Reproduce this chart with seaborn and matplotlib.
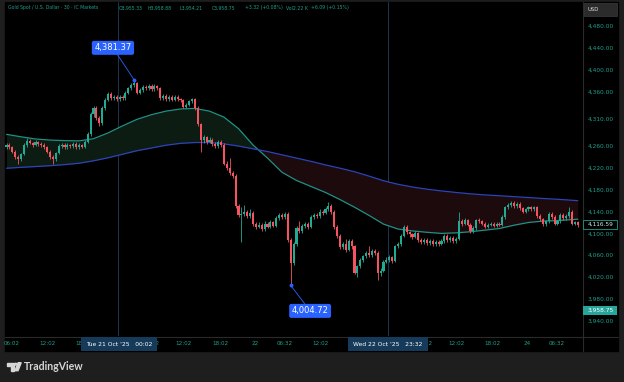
import matplotlib
matplotlib.use("Agg")
import matplotlib.pyplot as plt
import numpy as np
import pandas as pd
import seaborn as sns
from matplotlib.lines import Line2D
from matplotlib.patches import Circle, Polygon, Rectangle
from matplotlib.transforms import blended_transform_factory

# 30 min candles
opens = [
    4258, 4262, 4258, 4250, 4240, 4236, 4245, 4262, 4270, 4266,
    4262, 4268, 4264, 4262, 4258, 4250, 4240, 4236, 4248, 4260,
    4262, 4258, 4262, 4260, 4264, 4258, 4262, 4259, 4268, 4282,
    4318, 4330, 4312, 4302, 4330, 4345, 4356, 4348, 4350, 4346,
    4350, 4348, 4358, 4366, 4372, 4376, 4358, 4362, 4368, 4366,
    4370, 4364, 4370, 4366, 4348, 4352, 4346, 4350, 4345, 4350,
    4346, 4344, 4332, 4336, 4342, 4346, 4330, 4300, 4272, 4276,
    4268, 4272, 4264, 4260, 4268, 4262, 4228, 4220, 4210, 4206,
    4150, 4134, 4136, 4140, 4132, 4138, 4118, 4112, 4116, 4108,
    4118, 4112, 4120, 4114, 4128, 4134, 4130, 4136, 4088, 4045,
    4080, 4110, 4104, 4114, 4118, 4112, 4130, 4134, 4132, 4140,
    4138, 4144, 4150, 4140, 4112, 4095, 4075, 4080, 4070, 4086,
    4076, 4028, 4040, 4052, 4058, 4064, 4060, 4068, 4064, 4028,
    4032, 4048, 4052, 4056, 4050, 4076, 4080, 4096, 4112, 4102,
    4098, 4094, 4100, 4088, 4084, 4088, 4082, 4086, 4080, 4084,
    4081, 4086, 4096, 4088, 4092, 4086, 4090, 4122, 4118, 4124,
    4116, 4104, 4110, 4124, 4122, 4118, 4112, 4116, 4118, 4114,
    4118, 4116, 4130, 4148, 4152, 4156, 4150, 4154, 4146, 4140,
    4144, 4148, 4144, 4148, 4132, 4126, 4117, 4122, 4136, 4130,
    4118, 4122, 4134, 4128, 4132, 4140, 4118, 4120,
]
closes = [
    4262, 4258, 4250, 4240, 4236, 4245, 4262, 4270, 4266, 4262,
    4268, 4264, 4262, 4258, 4250, 4240, 4236, 4248, 4260, 4262,
    4258, 4262, 4260, 4264, 4258, 4262, 4259, 4268, 4282, 4318,
    4330, 4312, 4302, 4330, 4345, 4356, 4348, 4350, 4346, 4350,
    4348, 4358, 4366, 4372, 4376, 4358, 4362, 4368, 4366, 4370,
    4364, 4370, 4366, 4348, 4352, 4346, 4350, 4345, 4350, 4346,
    4344, 4332, 4336, 4342, 4346, 4330, 4300, 4272, 4276, 4268,
    4272, 4264, 4260, 4268, 4262, 4228, 4220, 4210, 4206, 4150,
    4134, 4136, 4140, 4132, 4138, 4118, 4112, 4116, 4108, 4118,
    4112, 4120, 4114, 4128, 4134, 4130, 4136, 4088, 4045, 4080,
    4110, 4104, 4114, 4118, 4112, 4130, 4134, 4132, 4140, 4138,
    4144, 4150, 4140, 4112, 4095, 4075, 4080, 4070, 4086, 4076,
    4028, 4040, 4052, 4058, 4064, 4060, 4068, 4064, 4028, 4032,
    4048, 4052, 4056, 4050, 4076, 4080, 4096, 4112, 4102, 4098,
    4094, 4100, 4088, 4084, 4088, 4082, 4086, 4080, 4084, 4081,
    4086, 4096, 4088, 4092, 4086, 4090, 4122, 4118, 4124, 4116,
    4104, 4110, 4124, 4122, 4118, 4112, 4116, 4118, 4114, 4118,
    4116, 4130, 4148, 4152, 4156, 4150, 4154, 4146, 4140, 4144,
    4148, 4144, 4148, 4132, 4126, 4117, 4122, 4136, 4130, 4118,
    4122, 4134, 4128, 4132, 4140, 4118, 4120, 4115,
]
highs = [
    4266, 4265, 4261, 4253, 4243, 4248, 4265, 4274, 4273, 4268,
    4271, 4270, 4267, 4265, 4260, 4253, 4244, 4250, 4263, 4266,
    4265, 4265, 4264, 4267, 4267, 4265, 4264, 4271, 4286, 4322,
    4334, 4333, 4316, 4333, 4349, 4360, 4359, 4354, 4353, 4354,
    4354, 4361, 4369, 4375, 4381.37, 4378, 4366, 4372, 4371, 4374,
    4373, 4373, 4372, 4368, 4355, 4355, 4353, 4353, 4353, 4353,
    4349, 4347, 4339, 4345, 4348, 4348, 4333, 4303, 4280, 4279,
    4276, 4275, 4267, 4271, 4271, 4265, 4232, 4238, 4214, 4209,
    4154, 4148, 4152, 4143, 4145, 4141, 4121, 4120, 4119, 4122,
    4121, 4124, 4123, 4131, 4138, 4137, 4140, 4139, 4091, 4084,
    4113, 4122, 4117, 4121, 4121, 4133, 4138, 4137, 4144, 4142,
    4148, 4158, 4153, 4143, 4115, 4098, 4084, 4090, 4090, 4090,
    4079, 4043, 4055, 4061, 4067, 4076, 4072, 4071, 4067, 4036,
    4051, 4056, 4060, 4059, 4079, 4084, 4099, 4116, 4115, 4105,
    4101, 4104, 4103, 4091, 4092, 4091, 4089, 4089, 4087, 4087,
    4089, 4099, 4099, 4095, 4095, 4093, 4140, 4126, 4128, 4127,
    4119, 4113, 4127, 4128, 4125, 4121, 4119, 4121, 4121, 4121,
    4121, 4133, 4151, 4156, 4159, 4159, 4157, 4157, 4149, 4147,
    4151, 4151, 4151, 4151, 4135, 4129, 4125, 4139, 4139, 4133,
    4125, 4137, 4137, 4135, 4149, 4143, 4123, 4123,
]
lows = [
    4255, 4255, 4247, 4237, 4228, 4233, 4243, 4259, 4263, 4259,
    4260, 4261, 4259, 4255, 4247, 4237, 4228, 4233, 4246, 4257,
    4255, 4254, 4257, 4256, 4255, 4255, 4256, 4256, 4265, 4279,
    4314, 4308, 4296, 4299, 4327, 4342, 4345, 4344, 4342, 4343,
    4344, 4345, 4355, 4363, 4369, 4355, 4355, 4359, 4362, 4363,
    4361, 4361, 4363, 4344, 4345, 4343, 4343, 4342, 4342, 4343,
    4341, 4329, 4329, 4333, 4339, 4327, 4296, 4250, 4266, 4264,
    4265, 4261, 4256, 4257, 4259, 4225, 4216, 4207, 4202, 4146,
    4130, 4085, 4132, 4128, 4129, 4114, 4108, 4109, 4104, 4105,
    4109, 4109, 4111, 4111, 4125, 4127, 4127, 4085, 4004.72, 4042,
    4076, 4100, 4101, 4110, 4108, 4109, 4127, 4129, 4129, 4134,
    4135, 4141, 4136, 4108, 4091, 4071, 4071, 4066, 4067, 4072,
    4025, 4020, 4037, 4048, 4055, 4057, 4057, 4061, 4015, 4022,
    4029, 4045, 4048, 4046, 4047, 4073, 4077, 4093, 4099, 4094,
    4090, 4091, 4085, 4080, 4080, 4078, 4079, 4076, 4077, 4077,
    4078, 4083, 4085, 4085, 4083, 4083, 4087, 4114, 4115, 4113,
    4101, 4101, 4107, 4119, 4115, 4109, 4109, 4113, 4111, 4111,
    4113, 4113, 4127, 4145, 4149, 4147, 4147, 4143, 4137, 4137,
    4141, 4141, 4141, 4129, 4123, 4113, 4114, 4119, 4127, 4115,
    4115, 4119, 4125, 4125, 4129, 4115, 4115, 4112,
]

# moving averages (teal = fast, blue = slow), read every 5 bars
ema_idx = [0, 5, 10, 15, 20, 25, 30, 35, 40, 45, 50, 55, 60, 65, 70, 75, 80, 85,
           90, 95, 100, 105, 110, 115, 120, 125, 130, 135, 140, 145, 150, 155,
           160, 165, 170, 175, 180, 185, 190, 197]
ema_fast = [4281.5, 4277, 4273, 4271, 4270, 4269.5, 4273.5, 4284, 4297, 4309,
            4317.5, 4324, 4328, 4329, 4324, 4313, 4292, 4262, 4238, 4212,
            4197, 4186, 4175, 4162, 4148, 4133, 4117, 4108, 4104.5, 4102,
            4100, 4101, 4103, 4106, 4109, 4115, 4120, 4122.5, 4123.5, 4126]
ema_slow = [4219.4, 4221, 4222.5, 4224, 4226, 4228.5, 4233, 4238.5, 4245, 4251.5,
            4256.5, 4261.5, 4265, 4266.5, 4266.5, 4264, 4260, 4255, 4250, 4244,
            4238, 4232, 4225.5, 4219.5, 4213, 4205, 4196.5, 4190, 4185, 4181,
            4177.8, 4175, 4172.5, 4170.5, 4169, 4167.3, 4165.7, 4164, 4162.5, 4160]

price_ticks = [3940, 3980, 4020, 4060, 4100, 4140, 4180, 4220, 4260, 4310,
               4360, 4400, 4440, 4480]
time_pos = [1.8, 14.2, 26.6, 50.2, 61.2, 73.6, 85.7, 96, 108.1, 120.5,
            144.3, 155.2, 167.4, 179.7, 189.7]
time_labels = ["06:02", "12:02", "18:02", "06:32", "12:02", "18:02", "22", "06:32",
               "12:02", "18:02", "06:32", "12:02", "18:02", "24", "06:32"]

high_label, low_label = 4381.37, 4004.72
ema_now, last_price = 4116.59, 3958.75
header = [
    (8, "Gold Spot / U.S. Dollar · 30 · IC Markets"),
    (119, "O3,955.33"), (147, "H3,958.88"), (180, "L3,954.21"),
    (212, "C3,958.75"), (245, "+3.32 (+0.08%)"), (286, "Vol2.22 K"),
    (311, "+6.09 (+0.15%)"),
]

UP, DOWN = "#22ab94", "#f7525f"
TEAL_LINE, BLUE_LINE = "#1f9186", "#2c44b8"
TXT = "#1f9e8b"

W, H = 624, 382


def fx(x):
    return x / W


def fy(y):
    return 1 - y / H


df = pd.DataFrame({"open": opens, "high": highs, "low": lows, "close": closes})
df["idx"] = np.arange(len(df))
df["up"] = df["close"] >= df["open"]
ema = pd.DataFrame({"idx": ema_idx, "fast": ema_fast, "slow": ema_slow})

sns.set_theme(style="dark", rc={"axes.facecolor": "black", "figure.facecolor": "#1e1e1e",
                                "axes.grid": False})
plt.rcParams["font.family"] = ["DejaVu Sans"]

fig = plt.figure(figsize=(6.24, 3.82), dpi=100)
fig.add_artist(Rectangle((fx(5), fy(351)), (618 - 5) / W, (351 - 2) / H,
                         transform=fig.transFigure, color="black", zorder=-1))
ax = fig.add_axes([fx(5), fy(336), (582 - 5) / W, (336 - 2) / H])
ax.set_facecolor("black")

ax.fill_between(ema["idx"], ema["fast"], ema["slow"], where=ema["fast"] >= ema["slow"],
                interpolate=True, color="#0c1c12", lw=0, zorder=1)
ax.fill_between(ema["idx"], ema["fast"], ema["slow"], where=ema["fast"] < ema["slow"],
                interpolate=True, color="#1d0a0c", lw=0, zorder=1)
sns.lineplot(data=ema, x="idx", y="fast", ax=ax, color=TEAL_LINE, lw=0.9, zorder=2)
sns.lineplot(data=ema, x="idx", y="slow", ax=ax, color=BLUE_LINE, lw=0.9, zorder=2)

cols = np.where(df["up"], UP, DOWN)
ax.vlines(df["idx"], df["low"], df["high"], colors=cols, lw=0.6, zorder=3)
ax.bar(df["idx"], np.maximum((df["close"] - df["open"]).abs(), 1.0),
       bottom=np.minimum(df["open"], df["close"]), width=0.7, color=cols, lw=0, zorder=3)

# crosshair lines
for xi in (38.6, 131.6):
    ax.axvline(xi, color="#1b3552", lw=0.7, zorder=0.5)

# high / low callouts
for xi, val, txt_xy in ((44, high_label, (36.7, 4440)), (98, low_label, (104.7, 3958))):
    ax.plot(xi, val, "o", ms=1.8, color="#2962ff", zorder=5)
    ax.annotate(f"{val:,.2f}", xy=(xi, val), xytext=txt_xy, textcoords="data",
                ha="center", va="center", fontsize=6, color="white", zorder=6,
                bbox=dict(boxstyle="round,pad=0.3,rounding_size=0.25", fc="#2962ff", ec="none"),
                arrowprops=dict(arrowstyle="-", color="#2962ff", lw=0.6, shrinkA=0, shrinkB=0))

ax.set_xlim(-0.52, 198.45)
ax.set_ylim(3912, 4524)
ax.set_xlabel("")
ax.set_ylabel("")
ax.set_xticks(time_pos, time_labels)
ax.yaxis.tick_right()
ax.set_yticks(price_ticks, [f"{p:,.2f}" for p in price_ticks])
ax.tick_params(axis="x", length=0, pad=3.4, labelsize=4.1, labelcolor=TXT)
ax.tick_params(axis="y", length=0, pad=4.3, labelsize=4.2, labelcolor=TXT)
for s in ax.spines.values():
    s.set_visible(False)

# header
for x, t in header:
    fig.text(fx(x), fy(8), t, fontsize=3.3, color=TXT, va="center", ha="left")

# separators
fig.add_artist(Line2D([fx(582.5), fx(582.5)], [fy(2), fy(351)], transform=fig.transFigure,
                      color="#2a2a2a", lw=0.8, zorder=4))
fig.add_artist(Line2D([fx(5), fx(618)], [fy(336.5), fy(336.5)], transform=fig.transFigure,
                      color="#2a2a2a", lw=0.8, zorder=4))

# USD box
fig.add_artist(Rectangle((fx(584), fy(16)), 33 / W, 13 / H, transform=fig.transFigure,
                         fc="#2b2b2b", ec="#3d3d3d", lw=0.5, zorder=5))
fig.text(fx(588), fy(9.5), "USD", fontsize=3.8, color="#e0e0e0", va="center", zorder=6)

# price scale labels
tr = blended_transform_factory(fig.transFigure, ax.transData)
fig.add_artist(Rectangle((fx(583), ema_now - 8.2), 34 / W, 16.5, transform=tr,
                         fc="black", ec=TXT, lw=0.6, zorder=5))
fig.text(fx(588), ema_now, f"{ema_now:,.2f}", transform=tr, fontsize=4.2,
         color="#cfe9e4", va="center", zorder=6)
fig.add_artist(Rectangle((fx(583), last_price - 8.2), 34 / W, 16.5, transform=tr,
                         fc="#26a69a", ec="none", zorder=5))
fig.text(fx(588), last_price, f"{last_price:,.2f}", transform=tr, fontsize=4.2,
         color="white", va="center", zorder=6)

# crosshair time boxes
for x0, x1, t in ((80.7, 157, "Tue 21 Oct '25   00:02"), (348, 428, "Wed 22 Oct '25   23:32")):
    fig.add_artist(Rectangle((fx(x0), fy(351)), (x1 - x0) / W, 14 / H,
                             transform=fig.transFigure, fc="#163a5a", ec="none", zorder=5))
    fig.text(fx((x0 + x1) / 2), fy(344), t, fontsize=4.3, color="white",
             ha="center", va="center", zorder=6)

# TradingView logo
logo = "#d6d6d6"
fig.add_artist(Polygon([(fx(6.5), fy(362.7)), (fx(13.5), fy(362.7)), (fx(13.5), fy(370.7)),
                        (fx(10.5), fy(370.7)), (fx(10.5), fy(365.6)), (fx(6.5), fy(365.6))],
                       closed=True, transform=fig.transFigure, color=logo, zorder=5))
fig.add_artist(Circle((fx(15.6), fy(364.2)), 1.4 / W, transform=fig.transFigure,
                      color=logo, zorder=5))
fig.add_artist(Polygon([(fx(18.2), fy(362.7)), (fx(21.2), fy(362.7)), (fx(18), fy(370.7)),
                        (fx(15), fy(370.7))],
                       closed=True, transform=fig.transFigure, color=logo, zorder=5))
fig.text(fx(24), fy(367), "TradingView", fontsize=7.6, color=logo, fontweight="bold",
         family=["Lato", "DejaVu Sans"], va="center", ha="left")

fig.savefig("out.png", dpi=100, facecolor=fig.get_facecolor())
